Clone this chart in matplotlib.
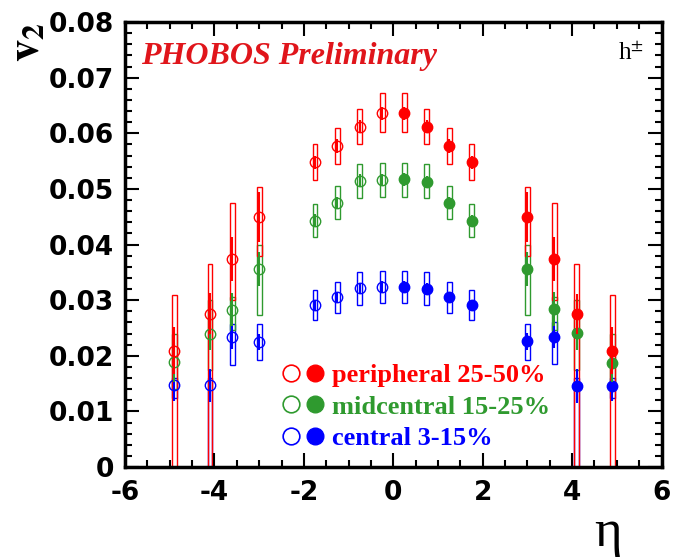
import numpy as np
import matplotlib
matplotlib.use('Agg')
import matplotlib.pyplot as plt
from matplotlib.legend_handler import HandlerTuple
from matplotlib.ticker import MultipleLocator
from matplotlib.lines import Line2D

plt.rcParams['mathtext.fontset'] = 'stix'
plt.rcParams['axes.unicode_minus'] = False

eta = [-4.9, -4.1, -3.6, -3.0, -1.75, -1.25, -0.75, -0.25,
       0.25, 0.75, 1.25, 1.75, 3.0, 3.6, 4.1, 4.9]

# peripheral 25-50%
red_v = [0.0209, 0.0276, 0.0374, 0.0449, 0.0548, 0.0577, 0.0612, 0.0636,
         0.0636, 0.0612, 0.0577, 0.0548, 0.0449, 0.0374, 0.0275, 0.0209]
red_stat = [0.0042, 0.0036, 0.0040, 0.0045, 0.0012, 0.0012, 0.0012, 0.0012,
            0.0012, 0.0012, 0.0012, 0.0012, 0.0045, 0.0040, 0.0036, 0.0042]
red_hi = [0.0310, 0.0365, 0.0475, 0.0503, 0.0580, 0.0610, 0.0643, 0.0672,
          0.0672, 0.0643, 0.0610, 0.0580, 0.0503, 0.0475, 0.0365, 0.0310]
red_lo = [-0.005, -0.005, 0.0300, 0.0380, 0.0516, 0.0545, 0.0580, 0.0603,
          0.0603, 0.0580, 0.0545, 0.0516, 0.0380, 0.0300, -0.005, -0.005]

# midcentral 15-25%
grn_v = [0.0188, 0.0240, 0.0283, 0.0356, 0.0443, 0.0474, 0.0515, 0.0516,
         0.0517, 0.0513, 0.0474, 0.0442, 0.0356, 0.0284, 0.0241, 0.0187]
grn_stat = [0.0035, 0.0030, 0.0030, 0.0030, 0.0011, 0.0011, 0.0011, 0.0011,
            0.0011, 0.0011, 0.0011, 0.0011, 0.0030, 0.0030, 0.0030, 0.0035]
grn_hi = [0.0240, 0.0300, 0.0305, 0.0400, 0.0473, 0.0505, 0.0545, 0.0547,
          0.0547, 0.0545, 0.0505, 0.0473, 0.0400, 0.0305, 0.0300, 0.0240]
grn_lo = [0.0140, 0.0175, 0.0246, 0.0273, 0.0413, 0.0445, 0.0483, 0.0485,
          0.0485, 0.0483, 0.0445, 0.0413, 0.0273, 0.0246, 0.0175, 0.0140]

# central 3-15%
blu_v = [0.0147, 0.0147, 0.0233, 0.0225, 0.0291, 0.0305, 0.0321, 0.0324,
         0.0324, 0.0320, 0.0305, 0.0291, 0.0226, 0.0234, 0.0146, 0.0146]
blu_stat = [0.0028, 0.0030, 0.0020, 0.0015, 0.0010, 0.0010, 0.0010, 0.0010,
            0.0010, 0.0010, 0.0010, 0.0010, 0.0015, 0.0020, 0.0030, 0.0028]
blu_hi = [0.0160, 0.0160, 0.0257, 0.0258, 0.0318, 0.0333, 0.0350, 0.0353,
          0.0353, 0.0350, 0.0333, 0.0318, 0.0258, 0.0260, 0.0160, 0.0160]
blu_lo = [0.0125, -0.005, 0.0183, 0.0192, 0.0264, 0.0277, 0.0292, 0.0294,
          0.0294, 0.0292, 0.0277, 0.0264, 0.0192, 0.0185, -0.005, 0.0125]

labels = ['peripheral 25-50%', 'midcentral 15-25%', 'central 3-15%']
colors = ['#ff0000', '#2f9a2f', '#0000ff']
xticks = [-6, -4, -2, 0, 2, 4, 6]
yticks = [0, 0.01, 0.02, 0.03, 0.04, 0.05, 0.06, 0.07, 0.08]
ytick_labels = ['0', '0.01', '0.02', '0.03', '0.04', '0.05', '0.06', '0.07', '0.08']

fig = plt.figure(figsize=(6.74, 5.60), dpi=100)
ax = fig.add_axes([0.1855, 0.166, 0.796, 0.7947])

eta = np.array(eta)
neg = eta < 0
pos = eta > 0
series = [(blu_v, blu_stat, blu_lo, blu_hi, colors[2]),
          (grn_v, grn_stat, grn_lo, grn_hi, colors[1]),
          (red_v, red_stat, red_lo, red_hi, colors[0])]
for v, st, lo, hi, c in series:
    v, st, lo, hi = map(np.array, (v, st, lo, hi))
    ax.bar(eta, hi - lo, bottom=lo, width=0.11, fill=False, edgecolor=c,
           linewidth=1.0)
    ax.errorbar(eta, v, yerr=st, fmt='none', ecolor=c, elinewidth=1.5, capsize=0)
    ax.plot(eta[neg], v[neg], 'o', ms=7.5, mfc='none', mec=c, mew=1.0)
    ax.plot(eta[pos], v[pos], 'o', ms=7.5, mfc=c, mec=c, mew=1.0)

ax.set_xlim(-6, 6)
ax.set_ylim(0, 0.08)
ax.set_xticks(xticks, [str(t) for t in xticks])
ax.set_yticks(yticks, ytick_labels)
ax.xaxis.set_minor_locator(MultipleLocator(0.5))
ax.yaxis.set_minor_locator(MultipleLocator(0.002))
ax.tick_params(which='both', direction='in', top=True, right=True, width=1.5)
ax.tick_params(which='major', length=10)
ax.tick_params(which='minor', length=5)
ax.tick_params(axis='y', pad=8)
ax.tick_params(axis='x', pad=9)
for lab in ax.get_xticklabels() + ax.get_yticklabels():
    lab.set_fontfamily('DejaVu Sans')
    lab.set_fontweight('bold')
    lab.set_fontsize(19)
for sp in ax.spines.values():
    sp.set_linewidth(2.5)

ax.text(-0.185, 0.955, r'$\mathbf{v}_{\mathbf{2}}$', transform=ax.transAxes,
        fontsize=32, rotation=90, ha='center', va='center')
ax.text(0.900, -0.148, 'η', transform=ax.transAxes, fontsize=38,
        family='Liberation Serif', ha='center', va='center')

ax.text(0.03, 0.955, 'PHOBOS Preliminary', transform=ax.transAxes,
        color='#e0151b', fontsize=23, fontweight='bold', fontstyle='italic',
        family='Liberation Serif', va='top', ha='left')
ax.text(0.968, 0.955, r'h$^{\pm}$', transform=ax.transAxes, fontsize=18,
        family='Liberation Serif', va='top', ha='right')

leg_handles = []
for c in colors:
    o = Line2D([], [], ls='none', marker='o', ms=12, mfc='none', mec=c, mew=1.2)
    f = Line2D([], [], ls='none', marker='o', ms=12, mfc=c, mec=c)
    leg_handles.append((o, f))
leg = ax.legend(leg_handles, labels, handler_map={tuple: HandlerTuple(ndivide=None, pad=0.1)},
                loc='center left', bbox_to_anchor=(0.245, 0.135), frameon=False,
                handlelength=1.7, handletextpad=0.25, labelspacing=0.3,
                prop={'family': 'Liberation Serif', 'weight': 'bold', 'size': 19})
for t, c in zip(leg.get_texts(), colors):
    t.set_color(c)

fig.savefig('out.png', dpi=100)
